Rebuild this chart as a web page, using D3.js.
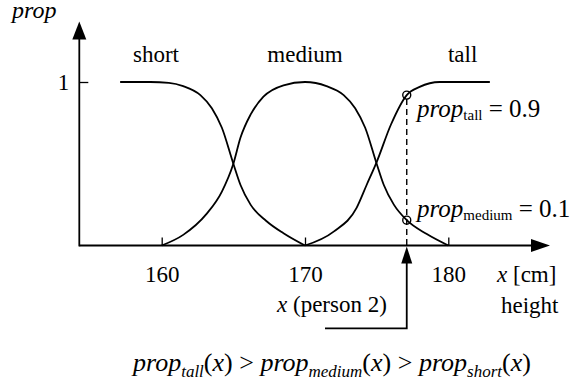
<!DOCTYPE html>
<html>
<head>
<meta charset="utf-8">
<script src="https://cdn.jsdelivr.net/npm/d3@7"></script>
</head>
<body style="margin:0">
<svg id="fig" width="572" height="391"></svg>
<script>
// ---- data ----
const xTicks = [160, 170, 180];
const yTicks = [1];
const categories = ["short", "medium", "tall"];
const categoryLabelX = [159.6, 170, 181.0];

const shortX  = [157.1, 159.2, 160.5, 161.5, 162.7, 163.5, 164.2, 165.0, 165.5, 166.2, 167.3, 168.5, 170];
const shortY  = [1, 1, 0.995, 0.975, 0.92, 0.84, 0.72, 0.5, 0.37, 0.25, 0.15, 0.075, 0];

const mediumX = [160, 161.5, 163.1, 164.2, 165, 165.5, 166.2, 167.1, 168.5, 170, 171.5, 172.7, 173.5, 174.2, 175, 175.5, 176.2, 177.1, 178.5, 180];
const mediumY = [0, 0.065, 0.19, 0.33, 0.5, 0.66, 0.8, 0.91, 0.98, 1, 0.975, 0.92, 0.84, 0.72, 0.5, 0.37, 0.25, 0.155, 0.07, 0];

const tallX   = [170, 172, 173.6, 174.3, 175, 176, 177.1, 178, 179.4, 181, 182.9];
const tallY   = [0, 0.085, 0.23, 0.37, 0.51, 0.74, 0.92, 0.97, 1, 1, 1];

const personX = 177.1;
const markerValues = [0.92, 0.155];
const markerNames = ["tall", "medium"];
const markerTexts = ["0.9", "0.1"];

// ---- layout ----
const FONT = "Liberation Serif";
const svg = d3.select("#fig");
const x = d3.scaleLinear().domain([160, 180]).range([161.7, 448.3]);
const y = d3.scaleLinear().domain([0, 1]).range([245.5, 82]);
const axisX0 = 79.3;
const FS = 23;

function txt(sel) { return sel.attr("font-family", FONT).attr("fill", "#000"); }

// axes lines with arrows
svg.append("line").attr("x1", axisX0).attr("x2", 533).attr("y1", y(0)).attr("y2", y(0))
  .attr("stroke", "#000").attr("stroke-width", 1.8);
svg.append("path").attr("d", `M550,${y(0)} L531,${y(0) - 6.5} L531,${y(0) + 6.5} Z`).attr("fill", "#000");
svg.append("line").attr("x1", axisX0).attr("x2", axisX0).attr("y1", y(0) + 0.9).attr("y2", 38)
  .attr("stroke", "#000").attr("stroke-width", 1.8);
svg.append("path").attr("d", `M${axisX0},21.5 L${axisX0 - 7},39.5 L${axisX0 + 7},39.5 Z`).attr("fill", "#000");

// x axis ticks
const gx = svg.append("g").attr("transform", `translate(0,${y(0)})`)
  .call(d3.axisBottom(x).tickValues(xTicks).tickSizeInner(-8).tickSizeOuter(0).tickPadding(0).tickFormat(d3.format("d")));
gx.attr("font-family", FONT).attr("font-size", FS);
gx.select(".domain").remove();
gx.selectAll(".tick line").attr("stroke", "#000").attr("stroke-width", 1.3);
txt(gx.selectAll(".tick text")).attr("y", 36).attr("dy", null).attr("font-size", FS);

// y axis ticks
const gy = svg.append("g").attr("transform", `translate(${axisX0},0)`)
  .call(d3.axisLeft(y).tickValues(yTicks).tickSizeInner(-9).tickSizeOuter(0).tickPadding(10).tickFormat(d3.format("d")));
gy.attr("font-family", FONT).attr("font-size", FS);
gy.select(".domain").remove();
gy.selectAll(".tick line").attr("stroke", "#000").attr("stroke-width", 1.3);
txt(gy.selectAll(".tick text")).attr("dy", "0.34em").attr("font-size", FS);

// curves
const line = d3.line().x(d => x(d[0])).y(d => y(d[1])).curve(d3.curveMonotoneX);
const series = [
  d3.zip(shortX, shortY),
  d3.zip(mediumX, mediumY),
  d3.zip(tallX, tallY)
];
svg.selectAll("path.curve").data(series).join("path").attr("class", "curve")
  .attr("d", line).attr("fill", "none").attr("stroke", "#000").attr("stroke-width", 1.8);

// category labels
txt(svg.selectAll("text.cat").data(categories).join("text").attr("class", "cat"))
  .attr("x", (d, i) => x(categoryLabelX[i])).attr("y", 62).attr("text-anchor", "middle")
  .attr("font-size", FS).text(d => d);

// axis titles
txt(svg.append("text")).attr("x", 12).attr("y", 18).attr("font-size", 24).attr("font-style", "italic").text("prop");
const xt = txt(svg.append("text")).attr("x", 497).attr("y", 281.5).attr("font-size", FS);
xt.append("tspan").attr("font-style", "italic").text("x");
xt.append("tspan").text(" [cm]");
txt(svg.append("text")).attr("x", 501).attr("y", 313).attr("font-size", FS).text("height");

// dashed line + markers
svg.append("line").attr("x1", x(personX)).attr("x2", x(personX))
  .attr("y1", y(markerValues[0]) + 4).attr("y2", y(0) + 2)
  .attr("stroke", "#000").attr("stroke-width", 1.4).attr("stroke-dasharray", "6,4");
svg.selectAll("circle.mk").data(markerValues).join("circle").attr("class", "mk")
  .attr("cx", x(personX)).attr("cy", d => y(d)).attr("r", 4)
  .attr("fill", "none").attr("stroke", "#000").attr("stroke-width", 1.4);

// marker labels
const labelY = [116.7, 216.7];
markerValues.forEach((v, i) => {
  const t = txt(svg.append("text")).attr("x", 417).attr("y", labelY[i]).attr("font-size", 25);
  t.append("tspan").attr("font-style", "italic").text("prop");
  t.append("tspan").attr("dy", 3).attr("font-size", 15).text(markerNames[i]);
  t.append("tspan").attr("dy", -3).text(" = " + markerTexts[i]);
});

// person pointer
const px = x(personX);
svg.append("path").attr("d", `M325,328.3 L${px},328.3 L${px},262`)
  .attr("fill", "none").attr("stroke", "#000").attr("stroke-width", 1.8);
svg.append("path").attr("d", `M${px},246.5 L${px - 5.5},263.5 L${px + 5.5},263.5 Z`).attr("fill", "#000");
const pt = txt(svg.append("text")).attr("x", 277).attr("y", 311.7).attr("font-size", FS);
pt.append("tspan").attr("font-style", "italic").text("x");
pt.append("tspan").text(" (person 2)");

// bottom formula
const f = txt(svg.append("text")).attr("x", 133).attr("y", 371).attr("font-size", 26).attr("font-style", "italic");
const parts = [["prop", "tall"], ["prop", "medium"], ["prop", "short"]];
parts.forEach((p, i) => {
  f.append("tspan").text(p[0]);
  f.append("tspan").attr("dy", 6).attr("font-size", 17).text(p[1]);
  f.append("tspan").attr("dy", -6).attr("font-style", "normal").text("(");
  f.append("tspan").text("x");
  f.append("tspan").attr("font-style", "normal").text(")" + (i < 2 ? " > " : ""));
});
</script>
</body>
</html>
